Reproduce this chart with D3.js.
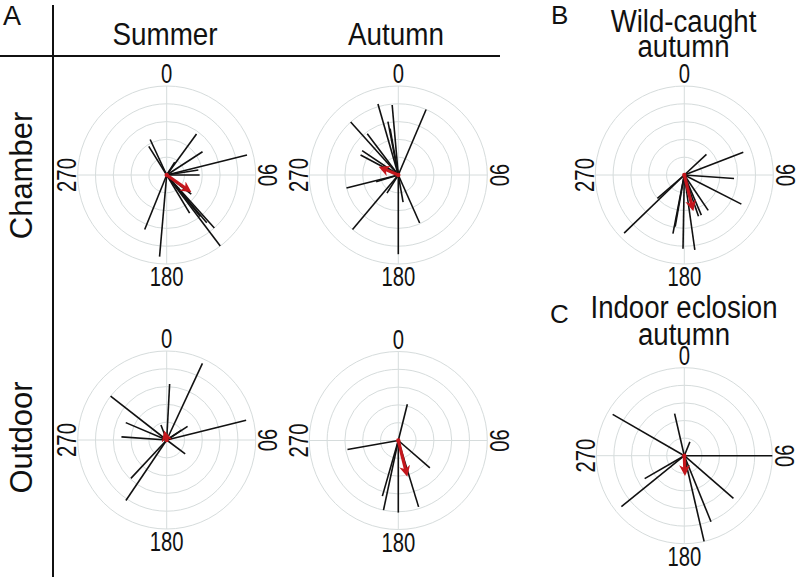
<!DOCTYPE html>
<html>
<head>
<meta charset="utf-8">
<script src="https://cdn.jsdelivr.net/npm/d3@7"></script>
<style>
  html, body { margin: 0; padding: 0; background: #fff; }
  svg { display: block; font-family: "Liberation Sans", Arial, sans-serif; }
</style>
</head>
<body>
<svg id="chart" width="800" height="577"></svg>
<script>
// ---- Data: individual headings (deg, clockwise from 0 = north) and vector lengths (0..1) ----
const summerChamberAngles  = [36, 57, 76, 81, 90, 32, 335, 328, 202, 185, 143, 138, 149, 128, 140, 141];
const summerChamberLengths = [0.57, 0.48, 0.93, 0.36, 0.37, 0.17, 0.44, 0.38, 0.66, 0.92, 1.0, 0.80, 0.50, 0.35, 0.70, 0.60];
const summerChamberMean    = [125, 0.29];

const autumnChamberAngles  = [23, 355, 344, 349, 350, 318, 323, 304, 298, 256, 220, 212, 180, 156, 170, 253];
const autumnChamberLengths = [0.80, 0.79, 0.83, 0.61, 0.53, 0.80, 0.58, 0.49, 0.48, 0.60, 0.80, 0.24, 0.89, 0.59, 0.31, 0.26];
const autumnChamberMean    = [293, 0.19];

const wildAngles  = [47, 69, 94, 117, 146, 157, 161, 172, 181, 191, 190, 226, 229];
const wildLengths = [0.34, 0.71, 0.56, 0.72, 0.48, 0.49, 0.49, 0.85, 0.83, 0.67, 0.59, 0.94, 0.40];
const wildMean    = [166, 0.37];

const summerOutdoorAngles  = [25, 3, 76, 57, 127, 308, 293, 274, 223, 214, 339, 56];
const summerOutdoorLengths = [0.95, 0.63, 0.92, 0.28, 0.26, 0.80, 0.50, 0.51, 0.59, 0.82, 0.18, 0.20];
const summerOutdoorMean    = [345, 0.06];

const autumnOutdoorAngles  = [14, 260, 131, 163, 180, 192, 196];
const autumnOutdoorLengths = [0.42, 0.58, 0.47, 0.78, 0.81, 0.80, 0.65];
const autumnOutdoorMean    = [166, 0.37];

const indoorAngles  = [22, 347, 300, 90, 131, 158, 167, 240, 231];
const indoorLengths = [0.17, 0.49, 0.94, 1.0, 0.74, 0.81, 1.0, 0.52, 0.92];
const indoorMean    = [178, 0.18];

const tickLabels = ["0", "90", "180", "270"];
const ringLevels = [0.2, 0.4, 0.6, 0.8, 1.0];

const columnTitles = ["Summer", "Autumn"];
const rowTitles = ["Chamber", "Outdoor"];

// ---- Layout ----
const svg = d3.select("#chart");
const panels = [
  { cx: 166.7, cy: 175,   R: 89, angles: summerChamberAngles, lengths: summerChamberLengths, mean: summerChamberMean },
  { cx: 398.3, cy: 175,   R: 89, angles: autumnChamberAngles, lengths: autumnChamberLengths, mean: autumnChamberMean },
  { cx: 684.3, cy: 175,   R: 89, angles: wildAngles,          lengths: wildLengths,          mean: wildMean },
  { cx: 166.7, cy: 440,   R: 89, angles: summerOutdoorAngles, lengths: summerOutdoorLengths, mean: summerOutdoorMean },
  { cx: 398.3, cy: 440.5, R: 89, angles: autumnOutdoorAngles, lengths: autumnOutdoorLengths, mean: autumnOutdoorMean },
  { cx: 684.3, cy: 455.7, R: 88, angles: indoorAngles,        lengths: indoorLengths,        mean: indoorMean }
];

const angleScale = d3.scaleLinear().domain([0, 360]).range([0, 2 * Math.PI]);

svg.append("defs").append("marker")
  .attr("id", "arrowHead")
  .attr("viewBox", "0 0 10 10")
  .attr("refX", 6).attr("refY", 5)
  .attr("markerWidth", 11).attr("markerHeight", 11)
  .attr("markerUnits", "userSpaceOnUse")
  .attr("orient", "auto")
  .append("path")
  .attr("d", "M0,0 L10,5 L0,10 L3,5 Z")
  .attr("fill", "#c4161c");

const gridColor = "#d6dcdc";

panels.forEach(p => {
  const r = d3.scaleLinear().domain([0, 1]).range([0, p.R]);
  const g = svg.append("g").attr("transform", `translate(${p.cx},${p.cy})`);

  g.selectAll("circle.ring").data(ringLevels).enter().append("circle")
    .attr("r", d => r(d)).attr("fill", "none")
    .attr("stroke", gridColor).attr("stroke-width", 1);

  g.selectAll("line.spoke").data([0, 90, 180, 270]).enter().append("line")
    .attr("x1", 0).attr("y1", 0)
    .attr("x2", d => d3.pointRadial(angleScale(d), r(1))[0])
    .attr("y2", d => d3.pointRadial(angleScale(d), r(1))[1])
    .attr("stroke", gridColor).attr("stroke-width", 1);

  const vecs = p.angles.map((a, i) => ({ a, l: p.lengths[i] }));
  g.selectAll("line.vec").data(vecs).enter().append("line")
    .attr("x1", 0).attr("y1", 0)
    .attr("x2", d => d3.pointRadial(angleScale(d.a), r(d.l))[0])
    .attr("y2", d => d3.pointRadial(angleScale(d.a), r(d.l))[1])
    .attr("stroke", "#111").attr("stroke-width", 1.6);

  const m = d3.pointRadial(angleScale(p.mean[0]), r(p.mean[1]));
  g.append("line")
    .attr("x1", 0).attr("y1", 0).attr("x2", m[0]).attr("y2", m[1])
    .attr("stroke", "#c4161c").attr("stroke-width", 3.2)
    .attr("marker-end", "url(#arrowHead)");
  g.append("circle").attr("r", 2.2).attr("fill", "#c4161c");

  // tick labels
  const fs = 27, sx = 0.75;
  const lab = (txt, x, y, rot) => {
    g.append("g").attr("transform", `translate(${x},${y}) rotate(${rot}) scale(${sx},1)`)
      .append("text").attr("text-anchor", "middle").attr("font-size", fs).attr("fill", "#111").text(txt);
  };
  lab(tickLabels[0], 0, -p.R - 3, 0);
  lab(tickLabels[2], 0, p.R + 22, 0);
  lab(tickLabels[3], -p.R - 1.5, 0, -90);
  lab(tickLabels[1], p.R + 2.5, 0, 90);
});

// ---- Titles and frame ----
function txt(t, x, y, size, sx, anchor, rot) {
  svg.append("g").attr("transform", `translate(${x},${y}) rotate(${rot || 0}) scale(${sx},1)`)
    .append("text").attr("text-anchor", anchor).attr("font-size", size).attr("fill", "#111").text(t);
}

txt("A", 3, 25, 27, 1, "start");
txt(columnTitles[0], 165, 45, 32, 0.87, "middle");
txt(columnTitles[1], 396, 45, 32, 0.87, "middle");
txt(rowTitles[0], 32, 175.5, 31, 1, "middle", -90);
txt(rowTitles[1], 32, 437.5, 31, 1, "middle", -90);

txt("B", 551, 24, 26, 1, "start");
txt("Wild-caught", 683.5, 32, 31, 0.89, "middle");
txt("autumn", 683.5, 57, 31, 0.89, "middle");

txt("C", 550, 323, 26, 1, "start");
txt("Indoor eclosion", 684, 318, 31, 0.89, "middle");
txt("autumn", 684, 345, 31, 0.89, "middle");

svg.append("line").attr("x1", 0).attr("x2", 500).attr("y1", 56).attr("y2", 56)
  .attr("stroke", "#111").attr("stroke-width", 2);
svg.append("line").attr("x1", 53).attr("x2", 53).attr("y1", 5).attr("y2", 577)
  .attr("stroke", "#111").attr("stroke-width", 2);
</script>
</body>
</html>
